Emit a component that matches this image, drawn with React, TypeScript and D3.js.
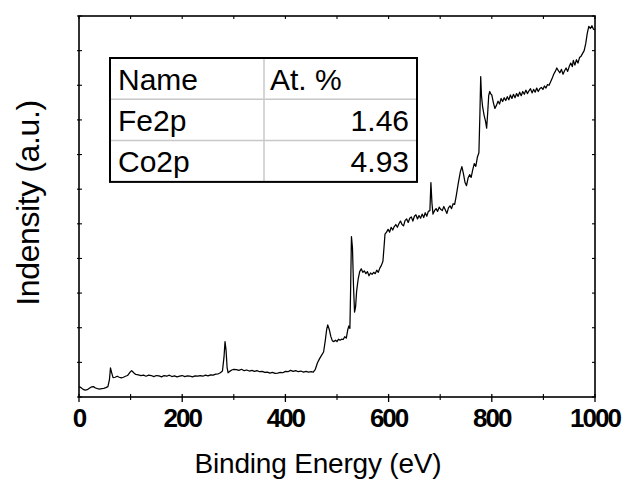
import React from "react";
import * as d3 from "d3";

// Binding energy (eV) and intensity (arb. units, 0..11 axis)
const energy: number[] = [
  0, 4, 8, 12, 16, 20, 24, 28, 32, 36, 40, 44, 48, 52, 56, 59, 61, 63, 66, 70, 74, 78, 82, 86, 90, 94, 98, 102, 106, 110,
  115, 120, 125, 130, 135, 140, 145, 150, 155, 160, 165, 170, 175, 180, 185, 190, 195, 200, 205, 210, 215, 220, 225, 230,
  235, 240, 245, 250, 255, 260, 265, 270, 274, 278, 281, 283, 285, 287, 289, 292, 296, 300, 305, 310, 315, 320, 325, 330,
  335, 340, 345, 350, 355, 360, 365, 370, 375, 380, 385, 390, 395, 400, 405, 410, 415, 420, 425, 430, 435, 440, 445, 450,
  454, 458, 462, 466, 470, 474, 477, 480, 482, 485, 488, 491, 494, 497, 500, 503, 506, 509, 512, 515, 518, 521, 523, 525,
  526.5, 528, 530, 532, 534, 536, 538, 541, 544, 547, 550, 553, 556, 559, 562, 565, 568, 571, 574, 577, 580, 583, 586, 589,
  591, 593, 596, 599, 602, 605, 608, 611, 614, 617, 620, 623, 626, 629, 632, 635, 638, 641, 644, 647, 650, 653, 656, 659,
  662, 665, 668, 671, 674, 677, 680, 682, 684, 686, 689, 692, 695, 698, 701, 704, 707, 710, 713, 716, 719, 722, 725, 728,
  731, 735, 739, 742, 745, 748, 751, 754, 757, 760, 763, 766, 769, 772, 775, 777, 778.5, 780, 782, 785, 788, 790, 792, 794,
  796, 798, 800, 803, 806, 809, 812, 815, 818, 821, 824, 827, 830, 833, 836, 839, 842, 845, 848, 851, 854, 857, 860, 863,
  866, 869, 872, 875, 878, 881, 884, 887, 890, 893, 896, 899, 902, 905, 908, 911, 914, 917, 920, 923, 926, 929, 932, 935,
  938, 941, 944, 947, 950, 953, 956, 958, 961, 964, 967, 970, 973, 976, 979, 982, 985, 988, 991, 994, 997, 1000,
];
const intensity: number[] = [
  0.3, 0.27, 0.22, 0.2, 0.21, 0.25, 0.29, 0.3, 0.26, 0.24, 0.23, 0.24, 0.25, 0.27, 0.3, 0.5, 0.84, 0.72, 0.56, 0.57, 0.6, 0.57, 0.55, 0.57, 0.6, 0.62, 0.7, 0.76, 0.7, 0.65,
  0.64, 0.62, 0.63, 0.6, 0.63, 0.62, 0.59, 0.62, 0.61, 0.58, 0.62, 0.6, 0.63, 0.59, 0.61, 0.58, 0.6, 0.62, 0.59, 0.61, 0.6, 0.58, 0.61, 0.6,
  0.62, 0.6, 0.63, 0.61, 0.64, 0.63, 0.66, 0.67, 0.7, 0.75, 1.15, 1.6, 1.35, 0.85, 0.7, 0.74, 0.78, 0.8, 0.79, 0.77, 0.8, 0.76, 0.78, 0.75,
  0.77, 0.74, 0.76, 0.73, 0.74, 0.71, 0.72, 0.69, 0.71, 0.68, 0.69, 0.71, 0.7, 0.74, 0.73, 0.77, 0.74, 0.76, 0.73, 0.75, 0.72, 0.74, 0.72, 0.73,
  0.72, 0.8, 0.98, 1.1, 1.2, 1.3, 1.6, 1.95, 2.08, 1.95, 1.75, 1.62, 1.6, 1.64, 1.6, 1.67, 1.64, 1.67, 1.66, 1.74, 1.7, 1.95, 2.05, 1.98,
  3.2, 4.63, 4.3, 3.2, 2.45, 2.6, 3.05, 3.4, 3.62, 3.7, 3.6, 3.64, 3.56, 3.62, 3.5, 3.58, 3.54, 3.6, 3.56, 3.66, 3.6, 3.72, 3.8, 3.92,
  4.3, 4.7, 4.76, 4.84, 4.76, 4.9, 4.82, 4.92, 4.98, 4.9, 5.0, 5.08, 4.98, 4.94, 5.1, 5.14, 5.04, 5.16, 5.2, 5.08, 5.22, 5.26, 5.14, 5.24,
  5.16, 5.28, 5.18, 5.32, 5.22, 5.36, 5.38, 6.19, 5.6, 5.28, 5.38, 5.44, 5.36, 5.48, 5.42, 5.38, 5.5, 5.4, 5.3, 5.46, 5.52, 5.44, 5.58, 5.56,
  5.8, 6.17, 6.5, 6.65, 6.45, 6.2, 6.1, 6.32, 6.42, 6.34, 6.56, 6.74, 6.66, 6.92, 7.05, 8.2, 9.25, 8.7, 8.4, 8.14, 7.95, 7.76, 8.2, 8.7,
  8.82, 8.75, 8.72, 8.5, 8.33, 8.42, 8.54, 8.46, 8.62, 8.53, 8.64, 8.56, 8.67, 8.58, 8.72, 8.62, 8.74, 8.64, 8.76, 8.68, 8.8, 8.7, 8.82, 8.74,
  8.86, 8.76, 8.84, 8.9, 8.78, 8.88, 8.8, 8.92, 8.82, 8.9, 8.94, 8.88, 8.98, 8.92, 9.02, 9.0, 9.1, 9.2, 9.32, 9.4, 9.5, 9.42, 9.36, 9.46,
  9.32, 9.42, 9.5, 9.4, 9.54, 9.64, 9.54, 9.72, 9.58, 9.74, 9.64, 9.8, 9.84, 9.92, 10.0, 10.2, 10.5, 10.7, 10.64, 10.72, 10.62, 10.6,
];

const xTicks: number[] = [0, 200, 400, 600, 800, 1000];
const xMinorTicks: number[] = [100, 300, 500, 700, 900];
const yTicks: number[] = [0, 1, 2, 3, 4, 5, 6, 7, 8, 9, 10, 11];

const tableHeader: string[] = ["Name", "At. %"];
const tableNames: string[] = ["Fe2p", "Co2p"];
const tableValues: string[] = ["1.46", "4.93"];

const W = 624;
const H = 480;
const L = 79;
const R = 595;
const T = 16;
const B = 397;

export default function App() {
  const x = d3.scaleLinear().domain([0, 1000]).range([L, R]);
  const y = d3.scaleLinear().domain([0, 11]).range([B, T]);
  const pts: [number, number][] = energy.map((e, i) => [e, intensity[i]]);
  const line = d3
    .line<[number, number]>()
    .x((d) => x(d[0]))
    .y((d) => y(d[1]))
    .curve(d3.curveLinear);

  const font = "'Liberation Sans', Arial, sans-serif";
  const tl = 110, tr = 417, tt = 58, rowH = 41.3, colX = 264;

  return (
    <div style={{ position: "fixed", left: 0, top: 0 }}>
      <svg width={W} height={H} style={{ display: "block", background: "#fff" }}>
        <defs>
          <clipPath id="plotclip">
            <rect x={L} y={T} width={R - L} height={B - T} />
          </clipPath>
        </defs>
        <rect x={0} y={0} width={W} height={H} fill="#fff" />
        <path d={line(pts) || ""} fill="none" stroke="#000" strokeWidth={1.25} clipPath="url(#plotclip)" strokeLinejoin="round" />

        {/* frame */}
        <rect x={L} y={T} width={R - L} height={B - T} fill="none" stroke="#000" strokeWidth={1.6} />

        {/* x ticks */}
        {xTicks.map((t) => (
          <line key={"xm" + t} x1={x(t)} x2={x(t)} y1={B - 3} y2={B + 5} stroke="#000" strokeWidth={1.3} />
        ))}
        {xMinorTicks.map((t) => (
          <line key={"xn" + t} x1={x(t)} x2={x(t)} y1={B - 3} y2={B + 3} stroke="#000" strokeWidth={1.1} />
        ))}
        {[...xTicks, ...xMinorTicks].map((t) => (
          <line key={"xt" + t} x1={x(t)} x2={x(t)} y1={T} y2={T + 3} stroke="#000" strokeWidth={1.1} />
        ))}
        {yTicks.map((t) => (
          <g key={"y" + t}>
            <line x1={L - 2} x2={L + 3} y1={y(t)} y2={y(t)} stroke="#000" strokeWidth={1.1} />
            <line x1={R - 3} x2={R} y1={y(t)} y2={y(t)} stroke="#000" strokeWidth={1.1} />
          </g>
        ))}
        {xTicks.map((t) => (
          <text
            key={"xl" + t}
            x={x(t)}
            y={427}
            textAnchor="middle"
            fontFamily={font}
            fontWeight="bold"
            fontSize={26}
            letterSpacing={-2}
            fill="#000"
          >
            {t}
          </text>
        ))}
        <text x={318} y={473} textAnchor="middle" fontFamily={font} fontSize={28} letterSpacing={-0.2} fill="#000">
          Binding Energy (eV)
        </text>
        <text
          transform={`translate(39,203) rotate(-90)`}
          textAnchor="middle"
          fontFamily={font}
          fontSize={32}
          letterSpacing={-0.4}
          fill="#000"
        >
          Indensity (a.u.)
        </text>

        {/* table */}
        <rect x={tl} y={tt} width={tr - tl} height={rowH * 3} fill="#fff" />
        {[1, 2].map((i) => (
          <line key={"rl" + i} x1={tl} x2={tr} y1={tt + rowH * i} y2={tt + rowH * i} stroke="#c8c8c8" strokeWidth={1.5} />
        ))}
        <line x1={colX} x2={colX} y1={tt} y2={tt + rowH * 3} stroke="#c8c8c8" strokeWidth={1.5} />
        <rect x={tl} y={tt} width={tr - tl} height={rowH * 3} fill="none" stroke="#000" strokeWidth={2} />
        <text x={118} y={90} fontFamily={font} fontSize={30} fill="#000">{tableHeader[0]}</text>
        <text x={270} y={90} fontFamily={font} fontSize={30} fill="#000">{tableHeader[1]}</text>
        {tableNames.map((n, i) => (
          <text key={n} x={118} y={131 + i * 41} fontFamily={font} fontSize={30} fill="#000">{n}</text>
        ))}
        {tableValues.map((v, i) => (
          <text key={v} x={409} y={131 + i * 41} textAnchor="end" fontFamily={font} fontSize={30} fill="#000">{v}</text>
        ))}
      </svg>
    </div>
  );
}
